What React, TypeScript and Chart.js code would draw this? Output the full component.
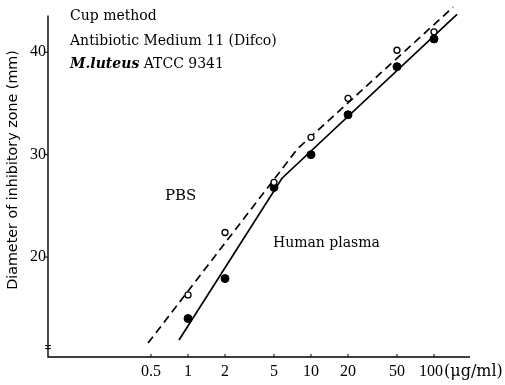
import React, { useEffect, useRef } from "react";
import { Chart, registerables } from "chart.js";

Chart.register(...registerables);

// ---- data ----
const concentrations = [1, 2, 5, 10, 20, 50, 100];
const pbsZone = [16.3, 22.4, 27.3, 31.7, 35.5, 40.2, 42.0];
const plasmaZone = [14.0, 17.9, 26.8, 30.0, 33.9, 38.6, 41.3];

const pbsFitX = [0.473, 7.8, 142.7];
const pbsFitY = [11.6, 30.6, 44.4];
const plasmaFitX = [0.845, 5.81, 153.8];
const plasmaFitY = [11.9, 27.7, 43.7];

const xTicks = [0.5, 1, 2, 5, 10, 20, 50, 100];
const xTickLabels = ["0.5", "1", "2", "5", "10", "20", "50", "100"];
const yTicks = [20, 30, 40];
const yTickLabels = ["20", "30", "40"];

const xUnit = "(μg/ml)";
const yTitle = "Diameter of inhibitory zone (mm)";
const noteLines = ["Cup method", "Antibiotic Medium 11 (Difco)"];
const organismItalic = "M.luteus";
const organismRest = " ATCC 9341";
const pbsLabel = "PBS";
const plasmaLabel = "Human plasma";

const X_MIN = 0.0727;
const X_MAX = 196.2;
const Y_MIN = 10.24;
const Y_MAX = 44.59;
const Y_AXIS_TOP = 43.6;
const Y_BREAK = 11.2;

const zip = (xs: number[], ys: number[]) => xs.map((x, i) => ({ x, y: ys[i] }));

const SERIF = '"DejaVu Serif", serif';
const TIMES = '"Liberation Serif", serif';
const SANS = '"DejaVu Sans", sans-serif';

const axesPlugin = {
  id: "customAxes",
  afterDraw(chart: any) {
    const { ctx, chartArea, scales } = chart;
    const xs = scales.x;
    const ys = scales.y;
    const left = chartArea.left;
    const right = chartArea.right;
    const bottom = chartArea.bottom;
    ctx.save();
    ctx.strokeStyle = "#000";
    ctx.fillStyle = "#000";
    ctx.lineWidth = 1.4;

    // axes lines
    ctx.beginPath();
    ctx.moveTo(left, ys.getPixelForValue(Y_AXIS_TOP));
    ctx.lineTo(left, bottom);
    ctx.lineTo(right, bottom);
    ctx.stroke();

    // axis break mark
    const yb = ys.getPixelForValue(Y_BREAK);
    ctx.lineWidth = 1;
    ctx.beginPath();
    ctx.moveTo(left - 3, yb - 1.5);
    ctx.lineTo(left + 3, yb - 1.5);
    ctx.moveTo(left - 3, yb + 1.5);
    ctx.lineTo(left + 3, yb + 1.5);
    ctx.stroke();

    // y ticks
    ctx.font = `16px ${TIMES}`;
    ctx.textAlign = "right";
    ctx.textBaseline = "middle";
    yTicks.forEach((v, i) => {
      const py = ys.getPixelForValue(v);
      ctx.beginPath();
      ctx.moveTo(left - 3, py);
      ctx.lineTo(left, py);
      ctx.stroke();
      ctx.fillText(yTickLabels[i], left - 2, py);
    });

    // x ticks
    ctx.textBaseline = "middle";
    xTicks.forEach((v, i) => {
      const px = xs.getPixelForValue(v);
      ctx.beginPath();
      ctx.moveTo(px, bottom);
      ctx.lineTo(px, bottom - 3);
      ctx.stroke();
      ctx.font = `16px ${TIMES}`;
      if (i === xTicks.length - 1) {
        ctx.textAlign = "left";
        const w = ctx.measureText(xTickLabels[i]).width;
        const x0 = px - 15;
        ctx.fillText(xTickLabels[i], x0, bottom + 15);
        ctx.font = `16px ${SERIF}`;
        ctx.fillText(xUnit, x0 + w + 1, bottom + 15);
      } else {
        ctx.textAlign = "center";
        ctx.fillText(xTickLabels[i], px, bottom + 15);
      }
    });

    // y title
    ctx.save();
    ctx.translate(13, 170);
    ctx.rotate(-Math.PI / 2);
    ctx.font = `14.3px ${SANS}`;
    ctx.textAlign = "center";
    ctx.textBaseline = "middle";
    ctx.fillText(yTitle, 0, 0);
    ctx.restore();

    // notes
    ctx.font = `14px ${SERIF}`;
    ctx.textAlign = "left";
    ctx.textBaseline = "alphabetic";
    ctx.fillText(noteLines[0], 70, 20);
    ctx.fillText(noteLines[1], 70, 45);
    ctx.font = `italic bold 14px ${SERIF}`;
    ctx.fillText(organismItalic, 70, 68);
    const w = ctx.measureText(organismItalic).width;
    ctx.font = `14px ${SERIF}`;
    ctx.fillText(organismRest, 70 + w, 68);

    ctx.font = `15px ${SERIF}`;
    ctx.fillText(pbsLabel, 165, 200);
    ctx.font = `14px ${SERIF}`;
    ctx.fillText(plasmaLabel, 273, 247);
    ctx.restore();
  },
};

export default function App() {
  const ref = useRef<HTMLCanvasElement | null>(null);
  useEffect(() => {
    if (!ref.current) return;
    const chart = new Chart(ref.current, {
      type: "scatter",
      data: {
        datasets: [
          {
            data: zip(pbsFitX, pbsFitY),
            showLine: true,
            borderColor: "#000",
            borderWidth: 1.7,
            borderDash: [8, 5],
            pointRadius: 0,
            order: 2,
          },
          {
            data: zip(plasmaFitX, plasmaFitY),
            showLine: true,
            borderColor: "#000",
            borderWidth: 1.7,
            pointRadius: 0,
            order: 2,
          },
          {
            data: zip(concentrations, pbsZone),
            pointRadius: 3,
            pointBackgroundColor: "#fff",
            pointBorderColor: "#000",
            pointBorderWidth: 1.3,
            order: 0,
          },
          {
            data: zip(concentrations, plasmaZone),
            pointRadius: 4,
            pointBackgroundColor: "#000",
            pointBorderColor: "#000",
            pointBorderWidth: 1,
            order: 0,
          },
        ],
      },
      options: {
        animation: false,
        responsive: false,
        layout: { padding: { left: 48, right: 35, top: 5, bottom: 28 } },
        plugins: { legend: { display: false }, tooltip: { enabled: false } },
        scales: {
          x: { type: "logarithmic", min: X_MIN, max: X_MAX, display: false },
          y: { type: "linear", min: Y_MIN, max: Y_MAX, display: false },
        },
      },
      plugins: [axesPlugin],
    } as any);
    return () => chart.destroy();
  }, []);
  return (
    <div style={{ position: "fixed", left: 0, top: 0, width: 505, height: 385, background: "#fff" }}>
      <canvas ref={ref} width={505} height={385} style={{ display: "block" }} />
    </div>
  );
}
